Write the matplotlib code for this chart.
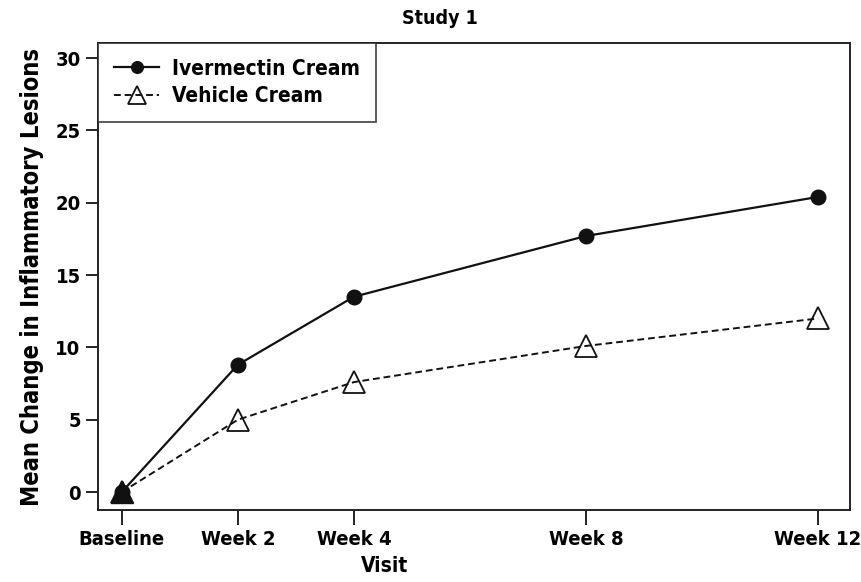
import matplotlib
matplotlib.use("Agg")
import matplotlib.pyplot as plt

weeks = [0, 2, 4, 8, 12]
tick_labels = ["Baseline", "Week 2", "Week 4", "Week 8", "Week 12"]
ivermectin = [0, 8.8, 13.5, 17.7, 20.4]
vehicle = [0, 5.0, 7.6, 10.1, 12.0]
yticks = [0, 5, 10, 15, 20, 25, 30]

plt.rcParams["font.family"] = ["DejaVu Sans"]
plt.rcParams["font.weight"] = "bold"
plt.rcParams["font.stretch"] = "condensed"

fig = plt.figure(figsize=(8.62, 5.82), dpi=100)
ax = fig.add_axes([98 / 862, 1 - 510 / 582, 752 / 862, 467 / 582])

ax.plot(weeks, ivermectin, color="#111111", lw=1.6, marker="o", ms=10.5,
        label="Ivermectin Cream")
ax.plot(weeks, vehicle, color="#111111", lw=1.4, ls=(0, (3.5, 2)), marker="^", ms=16,
        mfc="none", mew=1.3, label="Vehicle Cream")
# baseline point where both series overlap is drawn solid
ax.plot(weeks[:1], vehicle[:1], ls="none", marker="^", ms=16, color="#111111")

ax.set_xlim(-0.41, 12.55)
ax.set_ylim(-1.24, 31.04)
ax.set_xticks(weeks)
ax.set_xticklabels(tick_labels, fontsize=14.5)
ax.set_yticks(yticks)
ax.tick_params(axis="y", labelsize=14.5, length=9, width=1.2, direction="out")
ax.tick_params(axis="x", length=11, width=1.2, direction="out")
for s in ax.spines.values():
    s.set_linewidth(1.4)
    s.set_color("#222222")

ax.set_ylabel("Mean Change in Inflammatory Lesions", fontsize=17, fontweight="bold", labelpad=8)
fig.text(385 / 862, 1 - 566 / 582, "Visit", fontsize=15, ha="center", va="center")
fig.text(440 / 862, 1 - 18 / 582, "Study 1", fontsize=14, ha="center", va="center")

leg = ax.legend(loc="upper left", bbox_to_anchor=(0, 1), borderaxespad=0, fontsize=15,
                frameon=True, fancybox=False, handlelength=2.2, labelspacing=0.35,
                borderpad=0.75, handletextpad=0.6, markerscale=0.8)
leg.get_frame().set_edgecolor("#222222")
leg.get_frame().set_linewidth(1.3)

fig.savefig("out.png", dpi=100)
